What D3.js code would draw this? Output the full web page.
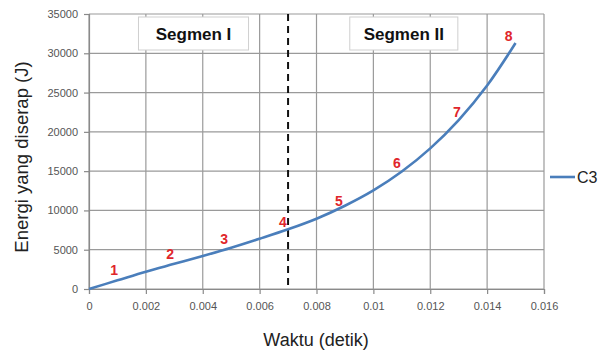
<!DOCTYPE html>
<html><head><meta charset="utf-8">
<script src="https://cdn.jsdelivr.net/npm/d3@7"></script>
<style>body{margin:0;background:#fff;}svg{display:block;font-family:"Liberation Sans",Arial,sans-serif;}</style>
</head><body><svg id="c" width="611" height="352"></svg>
<script>
const times = [0,0.001,0.002,0.003,0.004,0.005,0.006,0.007,0.008,0.009,0.010,0.011,0.012,0.013,0.014,0.015];
const energy = [0,1100,2200,3200,4200,5250,6400,7600,8950,10600,12550,14950,17900,21500,25900,31300];
const xTicks = [0,0.002,0.004,0.006,0.008,0.01,0.012,0.014,0.016];
const yTicks = [0,5000,10000,15000,20000,25000,30000,35000];
const pointLabels = ["1","2","3","4","5","6","7","8"];
const labelT = [0.00088,0.00285,0.00475,0.00682,0.00879,0.01083,0.01294,0.01476];
const labelE = [2420,4450,6360,8520,11200,16030,22500,32200];
const boundaryT = 0.007;
const segments = ["Segmen I","Segmen II"];
const segStart = [0.00174,0.00917];
const segEnd = [0.00561,0.01297];
const seriesName = "C3";

const svg = d3.select("#c");
const x = d3.scaleLinear().domain([0,0.016]).range([89,544]);
const y = d3.scaleLinear().domain([0,35000]).range([289,14]);

// grid
svg.append("g").selectAll("line").data(yTicks).join("line")
  .attr("x1",x(0)).attr("x2",x(0.016)).attr("y1",d=>y(d)).attr("y2",d=>y(d))
  .attr("stroke","#9a9a9a").attr("stroke-width",1.2);
svg.append("g").selectAll("line").data(xTicks).join("line")
  .attr("x1",d=>x(d)).attr("x2",d=>x(d)).attr("y1",y(0)).attr("y2",y(35000))
  .attr("stroke","#9a9a9a").attr("stroke-width",1.2);

// axes
const xa = svg.append("g").attr("transform",`translate(0,${y(0)})`)
  .call(d3.axisBottom(x).tickValues(xTicks).tickFormat(d=>String(+d.toFixed(3))).tickSizeOuter(0).tickSize(5).tickPadding(8));
const ya = svg.append("g").attr("transform",`translate(${x(0)},0)`)
  .call(d3.axisLeft(y).tickValues(yTicks).tickFormat(d=>String(d)).tickSizeOuter(0).tickSize(5).tickPadding(6));
[xa,ya].forEach(a=>{
  a.selectAll("path").attr("stroke","#8a8a8a").attr("stroke-width",1.2);
  a.selectAll("line").attr("stroke","#8a8a8a").attr("stroke-width",1.2);
  a.selectAll("text").attr("fill","#555").attr("font-size",11).attr("font-family","'Liberation Sans',Arial,sans-serif");
});

// dashed boundary
svg.append("line").attr("x1",x(boundaryT)).attr("x2",x(boundaryT)).attr("y1",y(35000)).attr("y2",y(0))
  .attr("stroke","#111").attr("stroke-width",2).attr("stroke-dasharray","7,5");

// segment boxes
segments.forEach((s,i)=>{
  const x0=x(segStart[i]), x1=x(segEnd[i]);
  svg.append("rect").attr("x",x0).attr("y",17).attr("width",x1-x0).attr("height",33)
    .attr("fill","#fff").attr("stroke","#d0d0d0").attr("stroke-width",1);
  svg.append("text").attr("x",(x0+x1)/2).attr("y",40).attr("text-anchor","middle")
    .attr("font-size",17).attr("font-weight","bold").attr("fill","#111").text(s);
});

// curve
const line = d3.line().x((d,i)=>x(times[i])).y(d=>y(d)).curve(d3.curveCatmullRom.alpha(0.5));
svg.append("path").datum(energy).attr("d",line).attr("fill","none")
  .attr("stroke","#4a7ebb").attr("stroke-width",2.6);

// point labels
svg.append("g").selectAll("text").data(pointLabels).join("text")
  .attr("x",(d,i)=>x(labelT[i])).attr("y",(d,i)=>y(labelE[i])+5)
  .attr("text-anchor","middle").attr("font-size",14).attr("font-weight","bold")
  .attr("fill","#e0262b").text(d=>d);

// legend
svg.append("line").attr("x1",550).attr("x2",575).attr("y1",177).attr("y2",177)
  .attr("stroke","#4a7ebb").attr("stroke-width",2.6);
svg.append("text").attr("x",577).attr("y",183).attr("font-size",16).attr("fill","#222").text(seriesName);

// axis titles
svg.append("text").attr("x",316).attr("y",346).attr("text-anchor","middle").attr("font-size",18).attr("fill","#222").text("Waktu (detik)");
svg.append("text").attr("transform","translate(28,157) rotate(-90)").attr("text-anchor","middle")
  .attr("font-size",18.5).attr("fill","#222").text("Energi yang diserap (J)");
</script></body></html>
